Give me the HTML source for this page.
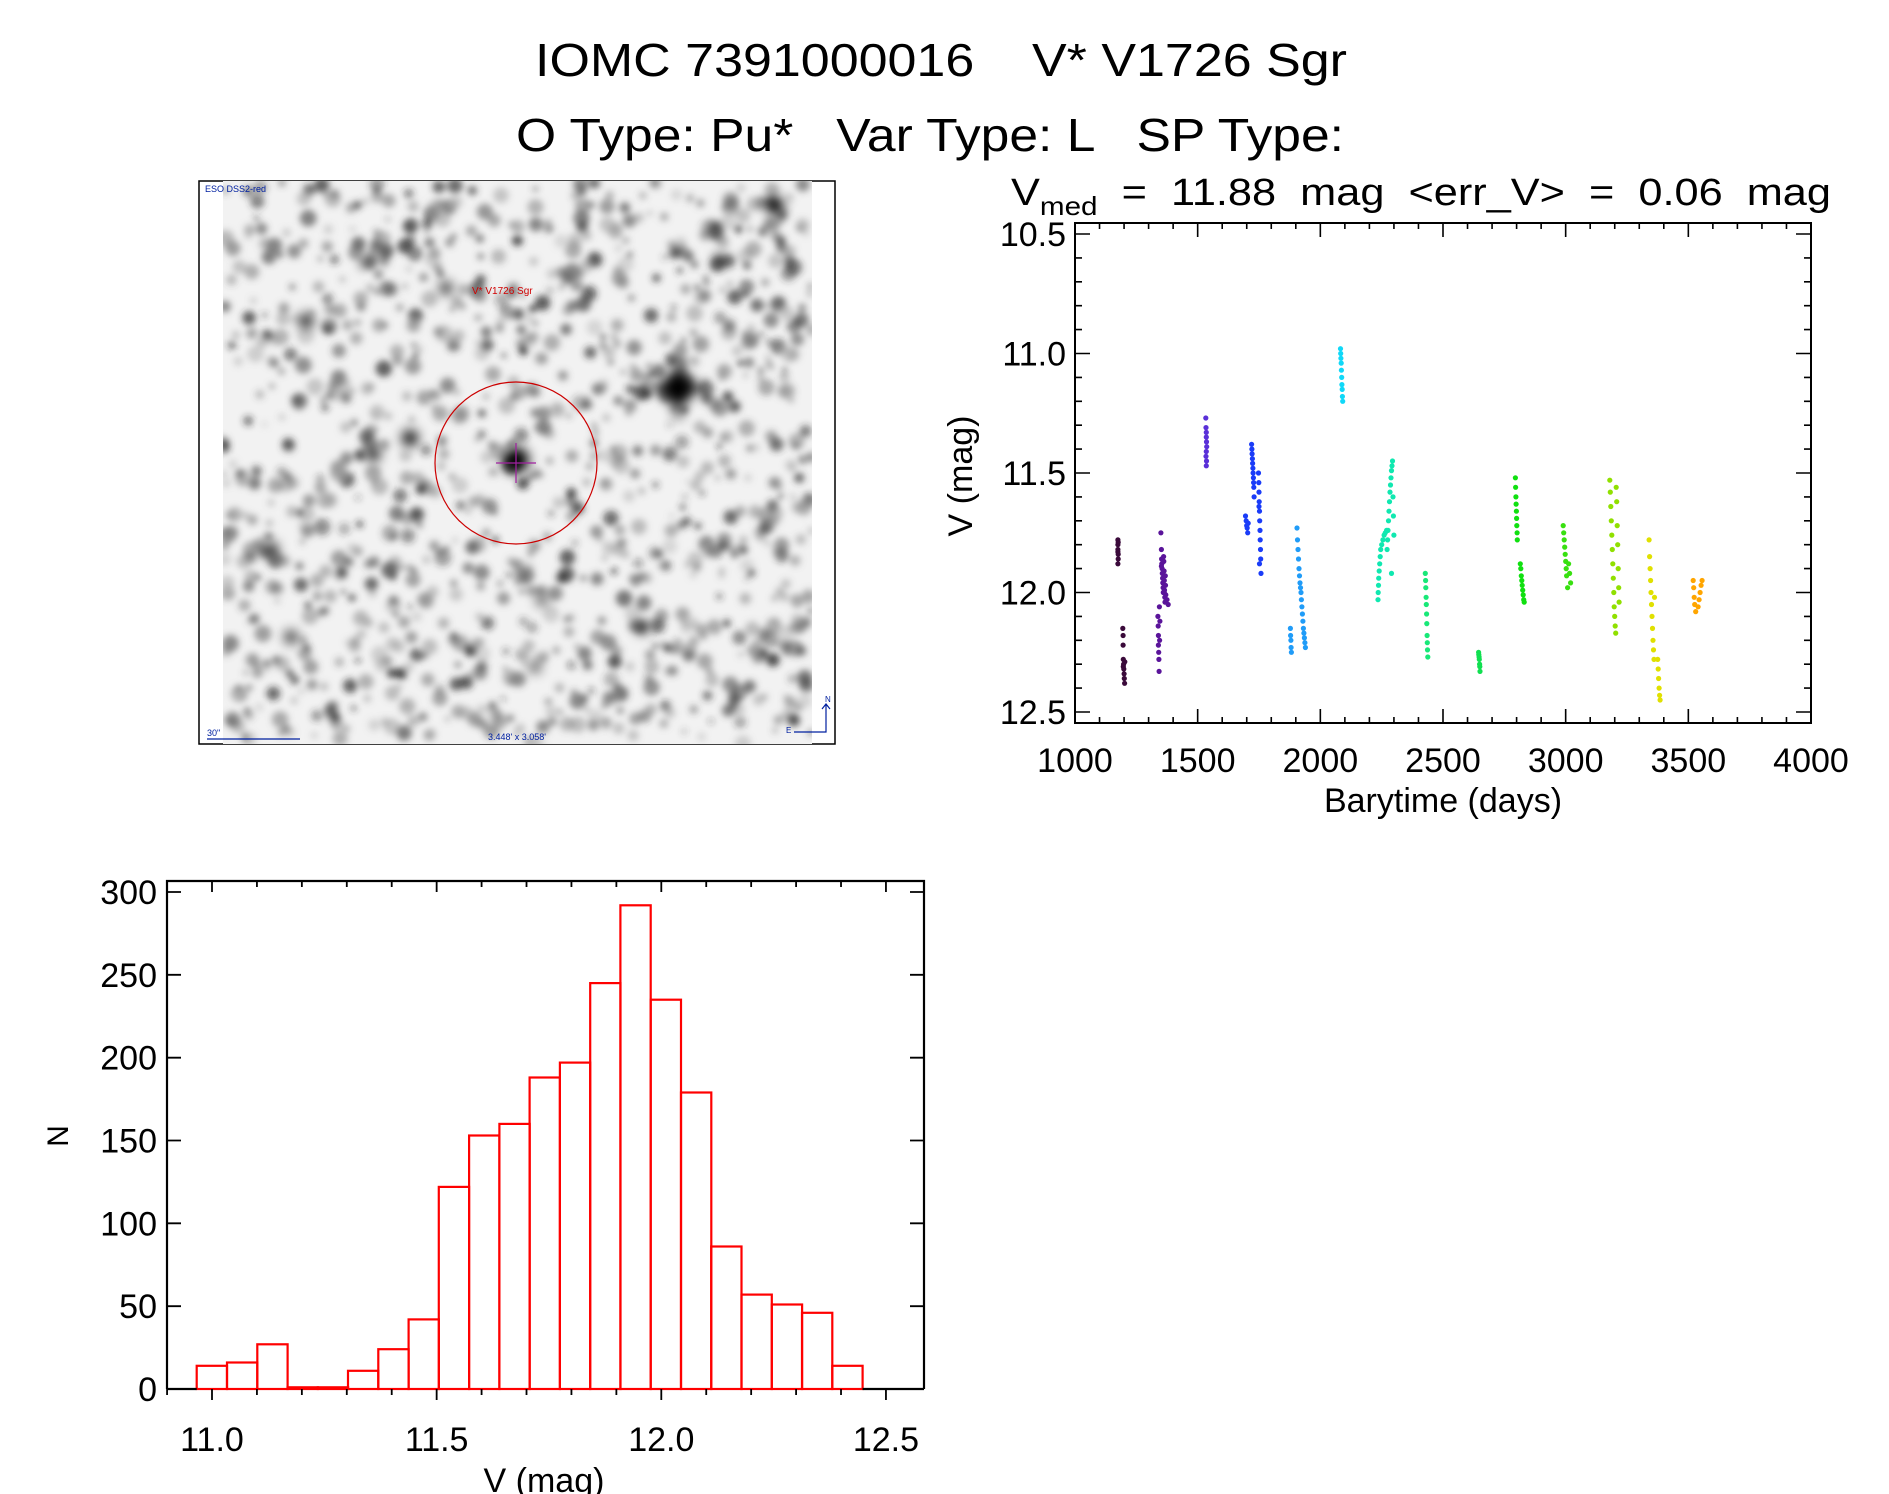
<!DOCTYPE html>
<html><head><meta charset="utf-8">
<style>
html,body{margin:0;padding:0;background:#fff;}
svg{display:block;font-family:"Liberation Sans",sans-serif;}
text{white-space:pre;}
</style></head>
<body>
<svg id="fig" width="1889" height="1494" viewBox="0 0 1889 1494" xmlns="http://www.w3.org/2000/svg">
<defs>
<filter id="blur3"><feGaussianBlur stdDeviation="3.5"/></filter>
<filter id="blur6"><feGaussianBlur stdDeviation="6"/></filter>
<clipPath id="imgclip"><rect x="223" y="181" width="589" height="563"/></clipPath>
</defs>
<g>
<text x="941" y="76" font-size="46" text-anchor="middle" textLength="812" lengthAdjust="spacingAndGlyphs" xml:space="preserve">IOMC 7391000016    V* V1726 Sgr</text>
<text x="930" y="151" font-size="46" text-anchor="middle" textLength="828" lengthAdjust="spacingAndGlyphs" xml:space="preserve">O Type: Pu*   Var Type: L   SP Type:</text>
</g>
<g id="sky">
<rect x="199" y="181" width="636" height="563" fill="#fff" stroke="#000" stroke-width="1.5"/>
<rect x="223" y="181" width="589" height="563" fill="#f2f2f2"/>
<g id="blobs" clip-path="url(#imgclip)"></g>
<circle cx="516" cy="463" r="81" fill="none" stroke="#c00" stroke-width="1.2"/>
<path d="M516 443V483M496 463H536" stroke="#a020a0" stroke-width="1.2"/>
<text x="205" y="192" font-size="9" fill="#0020a0">ESO DSS2-red</text>
<text x="472" y="294" font-size="10" fill="#d00000">V* V1726 Sgr</text>
<text x="207" y="736" font-size="9" fill="#0020a0">30"</text>
<path d="M207 739H300" stroke="#0020a0" stroke-width="1.2"/>
<text x="488" y="740" font-size="9" fill="#0020a0">3.448' x 3.058'</text>
<path d="M794 732H826V704M822 709L826 704L830 709" stroke="#0020a0" stroke-width="1.2" fill="none"/>
<text x="825" y="702" font-size="8" fill="#0020a0">N</text>
<text x="786" y="733" font-size="8" fill="#0020a0">E</text>
</g>
<g id="lc"></g>
<g id="hist"></g>
</svg>
<script>
// ---------- light curve data ----------
const lcXTicks = [1000,1500,2000,2500,3000,3500,4000];
const lcYTicks = [10.5,11.0,11.5,12.0,12.5];
const lcYTickLabels = ["10.5","11.0","11.5","12.0","12.5"];
const seasonTimes = [
 [1175,1175,1175,1176,1176,1175,1176,1175, 1195,1196,1196,1197,1198,1199,1200,1201,1202,1203,1197],
 [1338,1339,1340,1340,1341,1342,1343,1344,1345,1346, 1350,1352,1353,1354,1355,1356,1357,1358,1359,1360,1361,1362,1363,1364,1365,1366,1367,1368,1369,1370,1375,1380,1352,1358,1364],
 [1533,1534,1535,1535,1536,1537,1535,1534,1536,1535],
 [1695,1698,1700,1702,1704,1706, 1720,1721,1722,1723,1724,1725,1726,1727,1728,1729,1730, 1748,1749,1750,1751,1752,1753,1754,1755,1756,1757,1758,1750,1752],
 [1878,1879,1880,1881,1882, 1905,1907,1909,1911,1913,1915,1917,1919,1921,1923,1925,1927,1929,1931,1933,1935,1937,1939],
 [2082,2083,2084,2085,2086,2087,2088,2089,2090,2091],
 [2235,2236,2237,2238,2240,2242,2244,2246,2250,2255,2260,2265,2270, 2272,2274,2276,2278,2280,2282,2284,2286,2288,2290,2292,2294,2296,2298,2300,2290],
 [2428,2429,2430,2431,2432,2433,2434,2435,2436,2437,2438],
 [2645,2646,2647,2648,2649,2650,2651],
 [2795,2796,2797,2798,2799,2800,2801,2802,2803, 2815,2817,2819,2821,2823,2825,2827,2829,2831],
 [2990,2992,2994,2996,2998,3000,3002,3004,3008,3012,3016,3020],
 [3180,3182,3184,3186,3188,3190,3192,3194,3196,3198,3200,3202,3204,3206,3208,3210,3212,3214,3216,3218],
 [3340,3342,3344,3346,3348,3350,3352,3354,3356,3358,3360,3362, 3375,3377,3379,3381,3383,3385],
 [3520,3522,3524,3526,3530,3540,3544,3548,3552,3556]
];
const seasonMags = [
 [11.78,11.80,11.82,11.84,11.86,11.88,11.79,11.83, 12.15,12.18,12.22,12.28,12.30,12.32,12.34,12.36,12.38,12.29,12.31],
 [12.10,12.14,12.18,12.22,12.25,12.28,12.33,12.06,12.20,12.12, 11.75,11.82,11.86,11.88,11.90,11.92,11.94,11.96,11.98,12.00,11.85,11.87,11.91,11.95,11.99,12.02,12.04,11.93,11.97,12.01,12.03,12.05,11.89,11.92,12.00],
 [11.27,11.31,11.33,11.35,11.37,11.39,11.41,11.43,11.45,11.47],
 [11.68,11.70,11.72,11.73,11.75,11.71, 11.38,11.40,11.42,11.44,11.46,11.48,11.50,11.52,11.54,11.56,11.60, 11.50,11.54,11.58,11.62,11.66,11.70,11.74,11.78,11.82,11.86,11.92,11.64,11.88],
 [12.15,12.18,12.20,12.23,12.25, 11.73,11.78,11.82,11.86,11.90,11.93,11.96,11.98,12.00,12.03,12.06,12.09,12.12,12.15,12.17,12.19,12.21,12.23],
 [10.98,11.00,11.02,11.04,11.07,11.10,11.13,11.15,11.18,11.20],
 [12.03,12.00,11.97,11.94,11.91,11.88,11.85,11.82,11.80,11.78,11.76,11.75,11.74, 11.82,11.78,11.74,11.70,11.66,11.62,11.58,11.55,11.52,11.49,11.47,11.45,11.60,11.68,11.76,11.92],
 [11.92,11.95,11.98,12.02,12.05,12.09,12.13,12.18,12.21,12.24,12.27],
 [12.25,12.26,12.27,12.28,12.30,12.31,12.33],
 [11.52,11.56,11.60,11.63,11.66,11.69,11.72,11.75,11.78, 11.88,11.90,11.93,11.95,11.97,11.99,12.01,12.03,12.04],
 [11.72,11.75,11.78,11.81,11.84,11.87,11.90,11.93,11.98,11.88,11.92,11.96],
 [11.53,11.58,11.64,11.70,11.76,11.82,11.88,11.94,12.00,12.06,12.10,12.14,12.17,11.56,11.62,11.72,11.80,11.90,11.98,12.04],
 [11.78,11.85,11.90,11.95,12.00,12.05,12.10,12.15,12.20,12.24,12.28,12.02, 12.28,12.32,12.36,12.40,12.43,12.45],
 [11.95,11.98,12.02,12.05,12.08,12.06,12.03,12.00,11.97,11.95]
];
const seasonColors = ["#3a0a3a","#5a149a","#5a30d8","#1a3cf8","#209cf8","#10d8f8","#10e8b0","#18e878","#10e050","#10e010","#38e010","#90e000","#e0e000","#ffa500"];

// ---------- histogram data ----------
const histStart = 10.966;
const histBinWidth = 0.06736;
const histCounts = [14,16,27,1,1,11,24,42,122,153,160,188,197,245,292,235,179,86,57,51,46,14];
const histXTicks = [11.0,11.5,12.0,12.5];
const histXTickLabels = ["11.0","11.5","12.0","12.5"];
const histYTicks = [0,50,100,150,200,250,300];

const NS = "http://www.w3.org/2000/svg";
function mk(parent, tag, attrs, text){
  const e = document.createElementNS(NS, tag);
  for (const k in attrs) e.setAttribute(k, attrs[k]);
  if (text !== undefined) e.textContent = text;
  parent.appendChild(e);
  return e;
}

// ---------- sky image texture (decorative, not data) ----------
(function(){
  const g = document.getElementById('blobs');
  let s = 12345;
  function rnd(){ s = (s*1103515245 + 12345) % 2147483648; return s/2147483648; }
  const gb = mk(g,'g',{filter:'url(#blur3)'});
  for (let i=0;i<1100;i++){
    const x = 223 + rnd()*589, y = 181 + rnd()*563;
    const r = 2.5 + rnd()*6;
    const v = Math.floor(30 + rnd()*140);
    const c = mk(gb,'circle',{cx:x.toFixed(1),cy:y.toFixed(1),r:r.toFixed(1),fill:`rgb(${v},${v},${v})`,opacity:(0.3+rnd()*0.5).toFixed(2)});
    
    
  }
  const stars = [[678,388,16],[516,460,13],[410,438,8],[373,454,7],[306,321,7],[775,206,9],[721,260,6],[446,288,6],[271,550,7],[535,667,5],[643,627,6],[291,637,6],[542,600,5]];
  const gs = mk(g,'g',{filter:'url(#blur6)'});
  stars.forEach(st=>{
    const c = mk(gs,'circle',{cx:st[0],cy:st[1],r:st[2],fill:'#000'});
    
    
  });
  const cross = mk(gs,'path',{d:'M678 358V418M648 388H708',stroke:'#000','stroke-width':6});
  
  
})();

// ---------- light curve ----------
(function(){
  const g = document.getElementById('lc');
  const L=1075, R=1811, T=223, B=723;
  const X = t => L + (t-1000)*(R-L)/3000;
  const Y = m => 234 + (m-10.5)*239;
  const ttl = mk(g,'text',{x:1011,y:205,'font-size':38,textLength:820,lengthAdjust:'spacingAndGlyphs'});
  
  
  ttl.innerHTML = 'V<tspan font-size="26" dy="10">med</tspan><tspan dy="-10">  =  11.88  mag  &lt;err_V&gt;  =  0.06  mag</tspan>';
  seasonTimes.forEach((ts,si)=>{
    const sg = mk(g,'g',{fill:seasonColors[si]});
    
    
    ts.forEach((t,i)=>{
      const c = mk(sg,'circle',{cx:X(t).toFixed(1),cy:Y(seasonMags[si][i]).toFixed(1),r:2.6});
      
      
    });
  });
  const fr = mk(g,'rect',{x:L,y:T,width:R-L,height:B-T,fill:'none',stroke:'#000','stroke-width':2});
  
  
  let d='';
  for (let t=1000;t<=4000;t+=100){
    const major = (t%500===0);
    const len = major?14:6, x=X(t);
    d+=`M${x} ${B}V${B-len}M${x} ${T}V${T+len}`;
  }
  for (let k=0;k<=20;k++){
    const m = 10.5+k*0.1, y=Y(m);
    if (y<T||y>B) continue;
    const len = (k%5===0)?15:7;
    d+=`M${L} ${y}H${L+len}M${R} ${y}H${R-len}`;
  }
  const tk = mk(g,'path',{d:d,stroke:'#000','stroke-width':1.6,fill:'none'});
  
  
  lcXTicks.forEach(t=>{
    const e = mk(g,'text',{x:X(t),y:772,'font-size':34,'text-anchor':'middle'},String(t));
    
    
  });
  lcYTicks.forEach((m,i)=>{
    const e = mk(g,'text',{x:1066,y:Y(m)+12,'font-size':34,'text-anchor':'end'},lcYTickLabels[i]);
    
    
  });
  const xt = mk(g,'text',{x:1443,y:812,'font-size':34,'text-anchor':'middle'},'Barytime (days)');
  
  
  const yt = mk(g,'text',{x:0,y:0,'font-size':34,'text-anchor':'middle',transform:'translate(972,476) rotate(-90)'},'V (mag)');
  
  
})();

// ---------- histogram ----------
(function(){
  const g = document.getElementById('hist');
  const L=167, R=924, T=881, B=1389;
  const X = v => 212 + (v-11)*449.3;
  const Y = n => B - n*(B-892)/300;
  histCounts.forEach((n,i)=>{
    const x0 = X(histStart+i*histBinWidth), x1 = X(histStart+(i+1)*histBinWidth);
    const r = mk(g,'rect',{x:x0.toFixed(1),y:Y(n).toFixed(1),width:(x1-x0).toFixed(1),height:(B-Y(n)).toFixed(1),fill:'none',stroke:'#ff0000','stroke-width':2.2});
    
    
  });
  const fr = mk(g,'path',{d:`M${L} ${B}V${T}H${R}V${B}`,fill:'none',stroke:'#000','stroke-width':2.2});
  
  
  const firstX = X(histStart), lastX = X(histStart+histCounts.length*histBinWidth);
  const bl = mk(g,'path',{d:`M${L} ${B}H${firstX}M${lastX} ${B}H${R}`,stroke:'#000','stroke-width':2.2});
  
  
  let d='';
  for (let k=-1;k<=16;k++){
    const v = 11+k*0.1, x=X(v);
    if (x<L||x>R) continue;
    const len = (k%5===0)?11:6;
    d+=`M${x} ${B}V${B+len}M${x} ${T}V${T+len}`;
  }
  histYTicks.forEach(n=>{ const y=Y(n); d+=`M${L} ${y}H${L+14}M${R} ${y}H${R-14}`; });
  const tk = mk(g,'path',{d:d,stroke:'#000','stroke-width':1.8,fill:'none'});
  
  
  histXTicks.forEach((v,i)=>{
    const e = mk(g,'text',{x:X(v),y:1451,'font-size':34,'text-anchor':'middle'},histXTickLabels[i]);
    
    
  });
  histYTicks.forEach(n=>{
    const e = mk(g,'text',{x:157,y:Y(n)+12,'font-size':34,'text-anchor':'end'},String(n));
    
    
  });
  const xt = mk(g,'text',{x:544,y:1492,'font-size':34,'text-anchor':'middle'},'V (mag)');
  
  
  const yt = mk(g,'text',{x:0,y:0,'font-size':30,'text-anchor':'middle',transform:'translate(68,1136) rotate(-90)'},'N');
  
  
})();
</script>
</body></html>
